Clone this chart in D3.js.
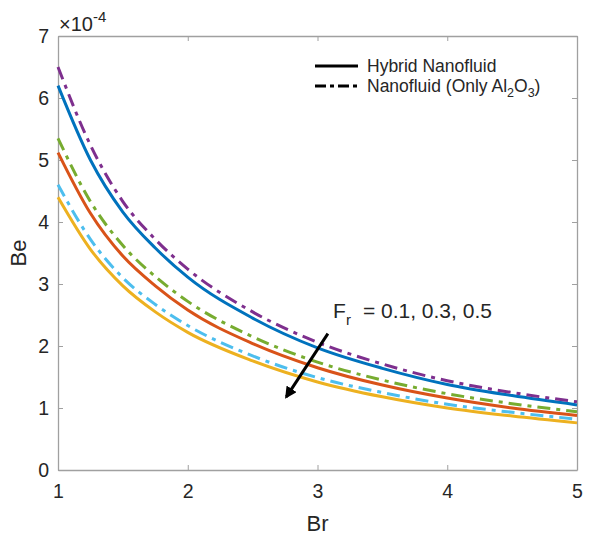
<!DOCTYPE html>
<html>
<head>
<meta charset="utf-8">
<script src="https://cdn.jsdelivr.net/npm/d3@7"></script>
<style>
  body { margin: 0; background: #fff; }
  text { font-family: "Liberation Sans", Arial, sans-serif; fill: #262626; }
</style>
</head>
<body>
<div id="chart"></div>
<script>
// Br values where the curves were read
const br = [1, 1.25, 1.5, 1.75, 2, 2.5, 3, 3.5, 4, 4.5, 5];

// Be values, in units of 1e-4
const hybrid01 = [6.2, 5.0, 4.16, 3.58, 3.11, 2.45, 1.97, 1.64, 1.38, 1.2, 1.05];
const hybrid03 = [5.12, 4.14, 3.45, 2.97, 2.58, 2.04, 1.65, 1.37, 1.16, 1.0, 0.88];
const hybrid05 = [4.4, 3.56, 2.97, 2.55, 2.22, 1.76, 1.42, 1.18, 1.0, 0.87, 0.76];
const nano01 = [6.5, 5.24, 4.33, 3.72, 3.24, 2.55, 2.06, 1.71, 1.44, 1.25, 1.1];
const nano03 = [5.35, 4.33, 3.62, 3.12, 2.72, 2.15, 1.74, 1.45, 1.23, 1.07, 0.94];
const nano05 = [4.6, 3.72, 3.1, 2.67, 2.33, 1.84, 1.49, 1.25, 1.06, 0.93, 0.82];

const xTicks = [1, 2, 3, 4, 5];
const yTicks = [0, 1, 2, 3, 4, 5, 6, 7];

var dashDot = "13,6,4,6";

const series = [
  {vals: hybrid01, color: "#0072BD", dash: null},
  {vals: hybrid03, color: "#D95319", dash: null},
  {vals: hybrid05, color: "#EDB120", dash: null},
  {vals: nano01, color: "#7E2F8E", dash: dashDot},
  {vals: nano03, color: "#77AC30", dash: dashDot},
  {vals: nano05, color: "#4DBEEE", dash: dashDot}
];

var svgWidth = 592, svgHeight = 536;
var margin = {top: 36, right: 15, bottom: 66, left: 58};
var width = svgWidth - margin.left - margin.right;
var height = svgHeight - margin.top - margin.bottom;

var root = d3.select("#chart").append("svg")
  .attr("width", svgWidth)
  .attr("height", svgHeight);
var svg = root.append("g")
  .attr("transform", "translate(" + margin.left + "," + margin.top + ")");

var x = d3.scaleLinear().domain([1, 5]).range([0, width]);
var y = d3.scaleLinear().domain([0, 7]).range([height, 0]);

var axisColor = "#a0a0a0";

// box + ticks on all four sides
function styleAxis(g) {
  g.select(".domain").attr("stroke", axisColor).attr("stroke-width", 1.3);
  g.selectAll(".tick line").attr("stroke", axisColor).attr("stroke-width", 1);
  g.selectAll(".tick text").style("font-size", "19.5px").attr("fill", "#262626");
}

svg.append("g")
  .attr("transform", "translate(0," + height + ")")
  .call(d3.axisBottom(x).tickValues(xTicks).tickSize(-5).tickSizeOuter(0).tickPadding(14).tickFormat(d3.format("d")))
  .call(styleAxis);
svg.append("g")
  .call(d3.axisTop(x).tickValues(xTicks).tickSize(-5).tickSizeOuter(0).tickFormat(""))
  .call(styleAxis);
svg.append("g")
  .call(d3.axisLeft(y).tickValues(yTicks).tickSize(-5).tickSizeOuter(0).tickPadding(9).tickFormat(d3.format("d")))
  .call(styleAxis);
svg.append("g")
  .attr("transform", "translate(" + width + ",0)")
  .call(d3.axisRight(y).tickValues(yTicks).tickSize(-5).tickSizeOuter(0).tickFormat(""))
  .call(styleAxis);

svg.selectAll(".domain").attr("fill", "none");

// exponent label
var ex = svg.append("text").attr("x", 1).attr("y", -5).style("font-size", "20px");
ex.append("tspan").text("\u00d710");
ex.append("tspan").attr("dy", -9).style("font-size", "15px").text("-4");

var line = d3.line()
  .x(function(d, i) { return x(br[i]); })
  .y(function(d) { return y(d); })
  .curve(d3.curveMonotoneX);

series.forEach(function(s) {
  svg.append("path")
    .datum(s.vals)
    .attr("fill", "none")
    .attr("stroke", s.color)
    .attr("stroke-width", 3)
    .attr("stroke-dasharray", s.dash)
    .attr("d", line);
});

// axis titles
svg.append("text")
  .attr("x", width / 2).attr("y", height + 61)
  .attr("text-anchor", "middle")
  .style("font-size", "22px")
  .text("Br");
svg.append("text")
  .attr("transform", "translate(-32," + (height / 2) + ") rotate(-90)")
  .attr("text-anchor", "middle")
  .style("font-size", "22px")
  .text("Be");

// legend
var leg = svg.append("g").attr("transform", "translate(257,30)");
leg.append("line").attr("x1", 0).attr("x2", 43).attr("y1", 0).attr("y2", 0)
  .attr("stroke", "#000").attr("stroke-width", 3);
leg.append("text").attr("x", 52).attr("y", 6).style("font-size", "17.5px").text("Hybrid Nanofluid");
leg.append("line").attr("x1", 0).attr("x2", 43).attr("y1", 20).attr("y2", 20)
  .attr("stroke", "#000").attr("stroke-width", 3).attr("stroke-dasharray", "11,4,4,4");
var t2 = leg.append("text").attr("x", 52).attr("y", 26).style("font-size", "17.5px");
t2.append("tspan").text("Nanofluid (Only Al");
t2.append("tspan").attr("dy", 5).style("font-size", "12.5px").text("2");
t2.append("tspan").attr("dy", -5).text("O");
t2.append("tspan").attr("dy", 5).style("font-size", "12.5px").text("3");
t2.append("tspan").attr("dy", -5).text(")");

// annotation with arrow
var defs = root.append("defs");
defs.append("marker")
  .attr("id", "arrow")
  .attr("viewBox", "0 0 10 10")
  .attr("refX", 8).attr("refY", 5)
  .attr("markerWidth", 4).attr("markerHeight", 4)
  .attr("orient", "auto")
  .append("path").attr("d", "M0,0 L10,5 L0,10 z").attr("fill", "#000");

svg.append("line")
  .attr("x1", x(3.08)).attr("y1", y(2.2))
  .attr("x2", x(2.76)).attr("y2", y(1.18))
  .attr("stroke", "#000").attr("stroke-width", 3)
  .attr("marker-end", "url(#arrow)");

var ann = svg.append("text").attr("x", x(3.12)).attr("y", y(2.45)).style("font-size", "21px").attr("fill", "#000");
ann.append("tspan").text("F");
ann.append("tspan").attr("dy", 7).style("font-size", "15px").text("r");
ann.append("tspan").attr("dy", -7).attr("dx", 12).text("= 0.1, 0.3, 0.5");
</script>
</body>
</html>
